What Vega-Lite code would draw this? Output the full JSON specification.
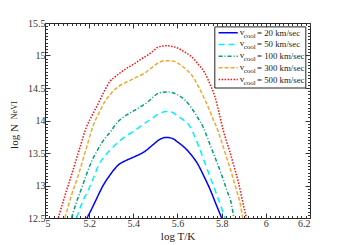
{
  "$schema": "https://vega.github.io/schema/vega-lite/v6.json",
  "autosize": {"type": "none"},
  "padding": {"left": 45, "top": 23, "right": 44, "bottom": 27},
  "width": 265,
  "height": 195,
  "background": "white",
  "config": {
    "view": {"stroke": "#222", "strokeWidth": 1},
    "font": "Liberation Serif",
    "axis": {"grid": false, "domain": false, "tickColor": "#333", "labelFont": "Liberation Serif", "titleFont": "Liberation Serif", "labelColor": "#333", "titleColor": "#222", "labelFontSize": 10, "titleFontSize": 11, "titleFontWeight": "normal"}
  },
  "datasets": {
    "curves": [
      {"series": "20", "x": 5.19, "y": 12.5}, {"series": "20", "x": 5.21, "y": 12.63}, {"series": "20", "x": 5.234, "y": 12.8}, {"series": "20", "x": 5.26, "y": 12.98}, {"series": "20", "x": 5.294, "y": 13.16}, {"series": "20", "x": 5.33, "y": 13.31}, {"series": "20", "x": 5.37, "y": 13.39}, {"series": "20", "x": 5.41, "y": 13.45}, {"series": "20", "x": 5.45, "y": 13.52}, {"series": "20", "x": 5.49, "y": 13.63}, {"series": "20", "x": 5.52, "y": 13.71}, {"series": "20", "x": 5.55, "y": 13.74}, {"series": "20", "x": 5.58, "y": 13.72}, {"series": "20", "x": 5.6, "y": 13.67}, {"series": "20", "x": 5.63, "y": 13.59}, {"series": "20", "x": 5.66, "y": 13.48}, {"series": "20", "x": 5.69, "y": 13.34}, {"series": "20", "x": 5.72, "y": 13.14}, {"series": "20", "x": 5.75, "y": 12.92}, {"series": "20", "x": 5.77, "y": 12.75}, {"series": "20", "x": 5.8, "y": 12.5},
      {"series": "50", "x": 5.143, "y": 12.5}, {"series": "50", "x": 5.17, "y": 12.75}, {"series": "50", "x": 5.196, "y": 12.93}, {"series": "50", "x": 5.22, "y": 13.12}, {"series": "50", "x": 5.241, "y": 13.3}, {"series": "50", "x": 5.27, "y": 13.45}, {"series": "50", "x": 5.302, "y": 13.57}, {"series": "50", "x": 5.33, "y": 13.66}, {"series": "50", "x": 5.362, "y": 13.75}, {"series": "50", "x": 5.4, "y": 13.83}, {"series": "50", "x": 5.437, "y": 13.92}, {"series": "50", "x": 5.483, "y": 14.03}, {"series": "50", "x": 5.52, "y": 14.11}, {"series": "50", "x": 5.55, "y": 14.14}, {"series": "50", "x": 5.58, "y": 14.12}, {"series": "50", "x": 5.603, "y": 14.06}, {"series": "50", "x": 5.63, "y": 14.0}, {"series": "50", "x": 5.656, "y": 13.91}, {"series": "50", "x": 5.675, "y": 13.78}, {"series": "50", "x": 5.694, "y": 13.62}, {"series": "50", "x": 5.739, "y": 13.21}, {"series": "50", "x": 5.784, "y": 12.8}, {"series": "50", "x": 5.815, "y": 12.5},
      {"series": "100", "x": 5.12, "y": 12.5}, {"series": "100", "x": 5.14, "y": 12.72}, {"series": "100", "x": 5.166, "y": 12.96}, {"series": "100", "x": 5.19, "y": 13.19}, {"series": "100", "x": 5.211, "y": 13.37}, {"series": "100", "x": 5.234, "y": 13.52}, {"series": "100", "x": 5.256, "y": 13.65}, {"series": "100", "x": 5.28, "y": 13.76}, {"series": "100", "x": 5.302, "y": 13.85}, {"series": "100", "x": 5.317, "y": 13.93}, {"series": "100", "x": 5.347, "y": 14.03}, {"series": "100", "x": 5.377, "y": 14.1}, {"series": "100", "x": 5.407, "y": 14.16}, {"series": "100", "x": 5.437, "y": 14.22}, {"series": "100", "x": 5.467, "y": 14.29}, {"series": "100", "x": 5.49, "y": 14.36}, {"series": "100", "x": 5.513, "y": 14.42}, {"series": "100", "x": 5.55, "y": 14.44}, {"series": "100", "x": 5.575, "y": 14.43}, {"series": "100", "x": 5.603, "y": 14.39}, {"series": "100", "x": 5.635, "y": 14.31}, {"series": "100", "x": 5.664, "y": 14.19}, {"series": "100", "x": 5.69, "y": 14.05}, {"series": "100", "x": 5.716, "y": 13.9}, {"series": "100", "x": 5.735, "y": 13.74}, {"series": "100", "x": 5.754, "y": 13.57}, {"series": "100", "x": 5.777, "y": 13.37}, {"series": "100", "x": 5.8, "y": 13.16}, {"series": "100", "x": 5.823, "y": 12.93}, {"series": "100", "x": 5.845, "y": 12.7}, {"series": "100", "x": 5.855, "y": 12.5},
      {"series": "300", "x": 5.09, "y": 12.5}, {"series": "300", "x": 5.12, "y": 12.85}, {"series": "300", "x": 5.151, "y": 13.16}, {"series": "300", "x": 5.185, "y": 13.55}, {"series": "300", "x": 5.219, "y": 13.93}, {"series": "300", "x": 5.245, "y": 14.12}, {"series": "300", "x": 5.271, "y": 14.29}, {"series": "300", "x": 5.3, "y": 14.42}, {"series": "300", "x": 5.332, "y": 14.52}, {"series": "300", "x": 5.362, "y": 14.58}, {"series": "300", "x": 5.392, "y": 14.63}, {"series": "300", "x": 5.422, "y": 14.68}, {"series": "300", "x": 5.452, "y": 14.73}, {"series": "300", "x": 5.475, "y": 14.79}, {"series": "300", "x": 5.498, "y": 14.85}, {"series": "300", "x": 5.52, "y": 14.9}, {"series": "300", "x": 5.543, "y": 14.92}, {"series": "300", "x": 5.57, "y": 14.92}, {"series": "300", "x": 5.603, "y": 14.88}, {"series": "300", "x": 5.635, "y": 14.8}, {"series": "300", "x": 5.664, "y": 14.7}, {"series": "300", "x": 5.695, "y": 14.52}, {"series": "300", "x": 5.724, "y": 14.32}, {"series": "300", "x": 5.745, "y": 14.16}, {"series": "300", "x": 5.762, "y": 14.01}, {"series": "300", "x": 5.777, "y": 13.9}, {"series": "300", "x": 5.795, "y": 13.72}, {"series": "300", "x": 5.814, "y": 13.52}, {"series": "300", "x": 5.833, "y": 13.32}, {"series": "300", "x": 5.852, "y": 13.11}, {"series": "300", "x": 5.867, "y": 12.93}, {"series": "300", "x": 5.882, "y": 12.75}, {"series": "300", "x": 5.895, "y": 12.5},
      {"series": "500", "x": 5.06, "y": 12.5}, {"series": "500", "x": 5.09, "y": 12.84}, {"series": "500", "x": 5.12, "y": 13.16}, {"series": "500", "x": 5.155, "y": 13.55}, {"series": "500", "x": 5.189, "y": 13.91}, {"series": "500", "x": 5.215, "y": 14.09}, {"series": "500", "x": 5.241, "y": 14.26}, {"series": "500", "x": 5.267, "y": 14.44}, {"series": "500", "x": 5.294, "y": 14.6}, {"series": "500", "x": 5.32, "y": 14.68}, {"series": "500", "x": 5.347, "y": 14.75}, {"series": "500", "x": 5.377, "y": 14.82}, {"series": "500", "x": 5.407, "y": 14.88}, {"series": "500", "x": 5.437, "y": 14.95}, {"series": "500", "x": 5.467, "y": 15.01}, {"series": "500", "x": 5.49, "y": 15.07}, {"series": "500", "x": 5.513, "y": 15.13}, {"series": "500", "x": 5.55, "y": 15.15}, {"series": "500", "x": 5.575, "y": 15.14}, {"series": "500", "x": 5.603, "y": 15.11}, {"series": "500", "x": 5.634, "y": 15.05}, {"series": "500", "x": 5.664, "y": 14.98}, {"series": "500", "x": 5.695, "y": 14.86}, {"series": "500", "x": 5.724, "y": 14.73}, {"series": "500", "x": 5.747, "y": 14.56}, {"series": "500", "x": 5.769, "y": 14.37}, {"series": "500", "x": 5.788, "y": 14.12}, {"series": "500", "x": 5.807, "y": 13.85}, {"series": "500", "x": 5.82, "y": 13.7}, {"series": "500", "x": 5.837, "y": 13.52}, {"series": "500", "x": 5.856, "y": 13.29}, {"series": "500", "x": 5.875, "y": 13.06}, {"series": "500", "x": 5.89, "y": 12.83}, {"series": "500", "x": 5.905, "y": 12.6}, {"series": "500", "x": 5.912, "y": 12.5}
    ],
    "legend": [
      {"series": "20", "ly": 15.35, "label": "= 20 km/sec"},
      {"series": "50", "ly": 15.17, "label": "= 50 km/sec"},
      {"series": "100", "ly": 14.99, "label": "= 100 km/sec"},
      {"series": "300", "ly": 14.81, "label": "= 300 km/sec"},
      {"series": "500", "ly": 14.63, "label": "= 500 km/sec"}
    ]
  },
  "resolve": {"axis": {"x": "independent", "y": "independent"}},
  "layer": [
    {
      "data": {"name": "curves"},
      "mark": {"type": "line", "strokeWidth": 1.5, "clip": true, "interpolate": "monotone"},
      "encoding": {
        "x": {"field": "x", "type": "quantitative", "scale": {"domain": [5, 6.2], "nice": false, "zero": false},
          "axis": {"orient": "bottom", "values": [5, 5.2, 5.4, 5.6, 5.8, 6, 6.2], "format": "~g", "tickSize": -5, "labelPadding": 5, "title": "log T/K", "titlePadding": 2}},
        "y": {"field": "y", "type": "quantitative", "scale": {"domain": [12.5, 15.5], "nice": false, "zero": false},
          "axis": {"orient": "left", "values": [12.5, 13, 13.5, 14, 14.5, 15, 15.5], "format": "~g", "tickSize": -5, "labelPadding": 5, "title": "log N", "titleAngle": 270, "titleX": -31, "titleY": 113, "titleAlign": "center", "titleBaseline": "middle"}},
        "color": {"field": "series", "type": "nominal", "legend": null,
          "scale": {"domain": ["20", "50", "100", "300", "500"], "range": ["#0000ff", "#00f0ff", "#00a078", "#f0a830", "#ff1010"]}},
        "strokeDash": {"field": "series", "type": "nominal", "legend": null,
          "scale": {"domain": ["20", "50", "100", "300", "500"], "range": [[1, 0], [6, 4], [4, 2, 1, 2], [4, 2], [1.5, 1.5]]}}
      }
    },
    {
      "data": {"values": [{}]},
      "mark": {"type": "rect", "fill": "white", "stroke": "#222", "strokeWidth": 1},
      "encoding": {
        "x": {"datum": 5.769, "type": "quantitative", "axis": {"orient": "top", "values": [5, 5.2, 5.4, 5.6, 5.8, 6, 6.2], "tickSize": -5, "labels": false, "title": null}},
        "x2": {"datum": 6.181},
        "y": {"datum": 15.44, "type": "quantitative", "axis": {"orient": "right", "values": [12.5, 13, 13.5, 14, 14.5, 15, 15.5], "tickSize": -5, "labels": false, "title": null}},
        "y2": {"datum": 14.5}
      }
    },
    {
      "data": {"name": "legend"},
      "mark": {"type": "rule", "strokeWidth": 1.5},
      "encoding": {
        "x": {"datum": 5.786, "type": "quantitative", "axis": {"orient": "bottom", "values": [5, 5.02, 5.04, 5.06, 5.08, 5.1, 5.12, 5.14, 5.16, 5.18, 5.2, 5.22, 5.24, 5.26, 5.28, 5.3, 5.32, 5.34, 5.36, 5.38, 5.4, 5.42, 5.44, 5.46, 5.48, 5.5, 5.52, 5.54, 5.56, 5.58, 5.6, 5.62, 5.64, 5.66, 5.68, 5.7, 5.72, 5.74, 5.76, 5.78, 5.8, 5.82, 5.84, 5.86, 5.88, 5.9, 5.92, 5.94, 5.96, 5.98, 6, 6.02, 6.04, 6.06, 6.08, 6.1, 6.12, 6.14, 6.16, 6.18, 6.2], "tickSize": -2.5, "labels": false, "title": null}},
        "x2": {"datum": 5.873},
        "y": {"field": "ly", "type": "quantitative", "axis": {"orient": "left", "values": [12.5, 12.55, 12.6, 12.65, 12.7, 12.75, 12.8, 12.85, 12.9, 12.95, 13, 13.05, 13.1, 13.15, 13.2, 13.25, 13.3, 13.35, 13.4, 13.45, 13.5, 13.55, 13.6, 13.65, 13.7, 13.75, 13.8, 13.85, 13.9, 13.95, 14, 14.05, 14.1, 14.15, 14.2, 14.25, 14.3, 14.35, 14.4, 14.45, 14.5, 14.55, 14.6, 14.65, 14.7, 14.75, 14.8, 14.85, 14.9, 14.95, 15, 15.05, 15.1, 15.15, 15.2, 15.25, 15.3, 15.35, 15.4, 15.45, 15.5], "tickSize": -2.5, "labels": false, "title": null}},
        "color": {"field": "series", "type": "nominal", "legend": null,
          "scale": {"domain": ["20", "50", "100", "300", "500"], "range": ["#0000ff", "#00f0ff", "#00a078", "#f0a830", "#ff1010"]}},
        "strokeDash": {"field": "series", "type": "nominal", "legend": null,
          "scale": {"domain": ["20", "50", "100", "300", "500"], "range": [[1, 0], [6, 4], [4, 2, 1, 2], [4, 2], [1.5, 1.5]]}}
      }
    },
    {
      "data": {"name": "legend"},
      "mark": {"type": "text", "text": "v", "align": "left", "baseline": "middle", "fontSize": 9, "font": "Liberation Serif", "color": "#222", "dy": -1},
      "encoding": {
        "x": {"datum": 5.882, "type": "quantitative", "axis": {"orient": "top", "values": [5, 5.02, 5.04, 5.06, 5.08, 5.1, 5.12, 5.14, 5.16, 5.18, 5.2, 5.22, 5.24, 5.26, 5.28, 5.3, 5.32, 5.34, 5.36, 5.38, 5.4, 5.42, 5.44, 5.46, 5.48, 5.5, 5.52, 5.54, 5.56, 5.58, 5.6, 5.62, 5.64, 5.66, 5.68, 5.7, 5.72, 5.74, 5.76, 5.78, 5.8, 5.82, 5.84, 5.86, 5.88, 5.9, 5.92, 5.94, 5.96, 5.98, 6, 6.02, 6.04, 6.06, 6.08, 6.1, 6.12, 6.14, 6.16, 6.18, 6.2], "tickSize": -2.5, "labels": false, "title": null}},
        "y": {"field": "ly", "type": "quantitative", "axis": {"orient": "right", "values": [12.5, 12.55, 12.6, 12.65, 12.7, 12.75, 12.8, 12.85, 12.9, 12.95, 13, 13.05, 13.1, 13.15, 13.2, 13.25, 13.3, 13.35, 13.4, 13.45, 13.5, 13.55, 13.6, 13.65, 13.7, 13.75, 13.8, 13.85, 13.9, 13.95, 14, 14.05, 14.1, 14.15, 14.2, 14.25, 14.3, 14.35, 14.4, 14.45, 14.5, 14.55, 14.6, 14.65, 14.7, 14.75, 14.8, 14.85, 14.9, 14.95, 15, 15.05, 15.1, 15.15, 15.2, 15.25, 15.3, 15.35, 15.4, 15.45, 15.5], "tickSize": -2.5, "labels": false, "title": null}}
      }
    },
    {
      "data": {"name": "legend"},
      "mark": {"type": "text", "text": "cool", "align": "left", "baseline": "middle", "fontSize": 7, "font": "Liberation Serif", "color": "#222", "dy": 3},
      "encoding": {
        "x": {"datum": 5.9, "type": "quantitative", "axis": null},
        "y": {"field": "ly", "type": "quantitative", "axis": null}
      }
    },
    {
      "data": {"name": "legend"},
      "mark": {"type": "text", "align": "left", "baseline": "middle", "fontSize": 8.8, "font": "Liberation Serif", "color": "#222"},
      "encoding": {
        "x": {"datum": 5.96, "type": "quantitative", "axis": null},
        "y": {"field": "ly", "type": "quantitative", "axis": null},
        "text": {"field": "label"}
      }
    },
    {
      "data": {"values": [{"sub": "NeVI"}]},
      "mark": {"type": "text", "align": "left", "baseline": "middle", "angle": 270, "fontSize": 8, "font": "Liberation Serif", "color": "#222"},
      "encoding": {
        "x": {"datum": 4.866, "type": "quantitative", "axis": null},
        "y": {"datum": 14.02, "type": "quantitative", "axis": null},
        "text": {"field": "sub"}
      }
    }
  ]
}
